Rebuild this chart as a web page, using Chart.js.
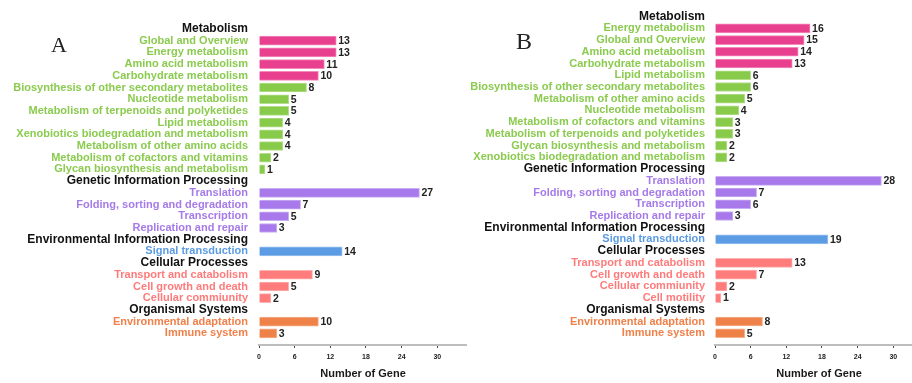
<!DOCTYPE html>
<html>
<head>
<meta charset="utf-8">
<script src="https://cdn.jsdelivr.net/npm/chart.js@4/dist/chart.umd.min.js"></script>
<style>
  html, body { margin: 0; padding: 0; background: #fff; overflow: hidden; width: 912px; height: 383px; }
  canvas { position: absolute; top: 0; }
  #chartA { left: 0; }
  #chartB { left: 456px; }
  .tag { position: absolute; font-family: 'Liberation Serif', 'Times New Roman', serif; color: #222; line-height: 1; }
</style>
</head>
<body>
<canvas id="chartA" width="467" height="383"></canvas>
<canvas id="chartB" width="467" height="383"></canvas>
<div class="tag" style="left:51px;top:34px;font-size:22px">A</div>
<div class="tag" style="left:516px;top:29px;font-size:24px">B</div>
<script>
// KEGG pathway classes (shared by both panels)
const groupHeaders = [
  'Metabolism',
  'Genetic Information Processing',
  'Environmental Information Processing',
  'Cellular Processes',
  'Organismal Systems'
];

// Panel A
const pathwaysA = [
  ['Global and Overview', 'Energy metabolism', 'Amino acid metabolism', 'Carbohydrate metabolism',
   'Biosynthesis of other secondary metabolites', 'Nucleotide metabolism',
   'Metabolism of terpenoids and polyketides', 'Lipid metabolism',
   'Xenobiotics biodegradation and metabolism', 'Metabolism of other amino acids',
   'Metabolism of cofactors and vitamins', 'Glycan biosynthesis and metabolism'],
  ['Translation', 'Folding, sorting and degradation', 'Transcription', 'Replication and repair'],
  ['Signal transduction'],
  ['Transport and catabolism', 'Cell growth and death', 'Cellular commiunity'],
  ['Environmental adaptation', 'Immune system']
];
const genesA = [
  [13, 13, 11, 10, 8, 5, 5, 4, 4, 4, 2, 1],
  [27, 7, 5, 3],
  [14],
  [9, 5, 2],
  [10, 3]
];

// Panel B
const pathwaysB = [
  ['Energy metabolism', 'Global and Overview', 'Amino acid metabolism', 'Carbohydrate metabolism',
   'Lipid metabolism', 'Biosynthesis of other secondary metabolites',
   'Metabolism of other amino acids', 'Nucleotide metabolism',
   'Metabolism of cofactors and vitamins', 'Metabolism of terpenoids and polyketides',
   'Glycan biosynthesis and metabolism', 'Xenobiotics biodegradation and metabolism'],
  ['Translation', 'Folding, sorting and degradation', 'Transcription', 'Replication and repair'],
  ['Signal transduction'],
  ['Transport and catabolism', 'Cell growth and death', 'Cellular commiunity', 'Cell motility'],
  ['Environmental adaptation', 'Immune system']
];
const genesB = [
  [16, 15, 14, 13, 6, 6, 5, 4, 3, 3, 2, 2],
  [28, 7, 6, 3],
  [19],
  [13, 7, 2, 1],
  [8, 5]
];

const geneTicks = [0, 6, 12, 18, 24, 30];

// Styling
const FONT = "'Liberation Sans', Arial, Helvetica, sans-serif";
Chart.defaults.font.family = FONT;
const labelColors = ['#8BCB4F', '#A67BE9', '#5B9BE2', '#FF7B7B', '#F0814A'];
const barColors   = ['#88CA4A', '#A879EA', '#5C9CE4', '#FF7C7C', '#EF8248'];
const barEdges    = ['#B4DE8C', '#C9AEF3', '#9CC3EF', '#FFB0B0', '#F6B08E'];
const leadColor = '#E8408F', leadEdge = '#F38CBC';
const leadCount = 4; // the largest metabolism classes are drawn in pink

function buildRows(pathways, genes) {
  const labels = [], values = [], group = [], header = [], rank = [];
  groupHeaders.forEach((h, g) => {
    labels.push(h); values.push(null); group.push(g); header.push(true); rank.push(-1);
    pathways[g].forEach((p, i) => {
      labels.push(p); values.push(genes[g][i]); group.push(g); header.push(false); rank.push(i);
    });
  });
  // empty row below the last class, leaves room above the axis
  labels.push(''); values.push(null); group.push(-1); header.push(false); rank.push(-1);
  return { labels, values, group, header, rank };
}

const valueLabels = {
  id: 'valueLabels',
  afterDatasetsDraw(chart) {
    const ctx = chart.ctx;
    const meta = chart.getDatasetMeta(0);
    const data = chart.data.datasets[0].data;
    ctx.save();
    ctx.font = 'bold 10.5px ' + FONT;
    ctx.fillStyle = '#222';
    ctx.textAlign = 'left';
    ctx.textBaseline = 'middle';
    meta.data.forEach((bar, i) => {
      const v = data[i];
      if (v == null) return;
      ctx.fillText(String(v), bar.x + 2, bar.y + 0.5);
    });
    ctx.restore();
  }
};

function makeChart(id, rows, topPad, labelPad) {
  const isLead = i => rows.group[i] === 0 && rows.rank[i] >= 0 && rows.rank[i] < leadCount;
  return new Chart(document.getElementById(id), {
    type: 'bar',
    data: {
      labels: rows.labels,
      datasets: [{
        data: rows.values,
        backgroundColor: rows.values.map((v, i) => isLead(i) ? leadColor : (barColors[rows.group[i]] || '#ccc')),
        borderColor: rows.values.map((v, i) => isLead(i) ? leadEdge : (barEdges[rows.group[i]] || '#ddd')),
        borderWidth: 1,
        barThickness: 9
      }]
    },
    options: {
      indexAxis: 'y',
      responsive: false,
      animation: false,
      layout: { padding: { top: topPad, right: 0, bottom: 0, left: 0 } },
      plugins: { legend: { display: false }, tooltip: { enabled: false } },
      scales: {
        x: {
          type: 'linear',
          min: 0,
          max: 35,
          afterBuildTicks: s => { s.ticks = geneTicks.map(v => ({ value: v })); },
          afterFit: s => { s.height = 38; },
          border: { display: true, color: '#bdbdbd', width: 2 },
          grid: { display: true, drawOnChartArea: false, drawTicks: true, tickLength: 3, tickColor: '#444', tickWidth: 1 },
          ticks: { font: { size: 7, weight: 'bold' }, color: '#222', padding: 5, maxRotation: 0 },
          title: {
            display: true, text: 'Number of Gene',
            font: { size: 11, weight: 'bold' }, color: '#1a1a1a',
            padding: { top: 0, bottom: 2 }
          }
        },
        y: {
          type: 'category',
          offset: false,
          afterFit: s => { s.width = 259; },
          border: { display: false },
          grid: { display: false, drawTicks: false },
          ticks: {
            autoSkip: false,
            padding: labelPad,
            font: ctx => rows.header[ctx.index] ? { size: 12, weight: 'bold' } : { size: 11, weight: 'bold' },
            color: ctx => rows.header[ctx.index] ? '#111' : (labelColors[rows.group[ctx.index]] || '#111')
          }
        }
      }
    },
    plugins: [valueLabels]
  });
}

makeChart('chartA', buildRows(pathwaysA, genesA), 29, 11);
makeChart('chartB', buildRows(pathwaysB, genesB), 14, 10);
</script>
</body>
</html>
